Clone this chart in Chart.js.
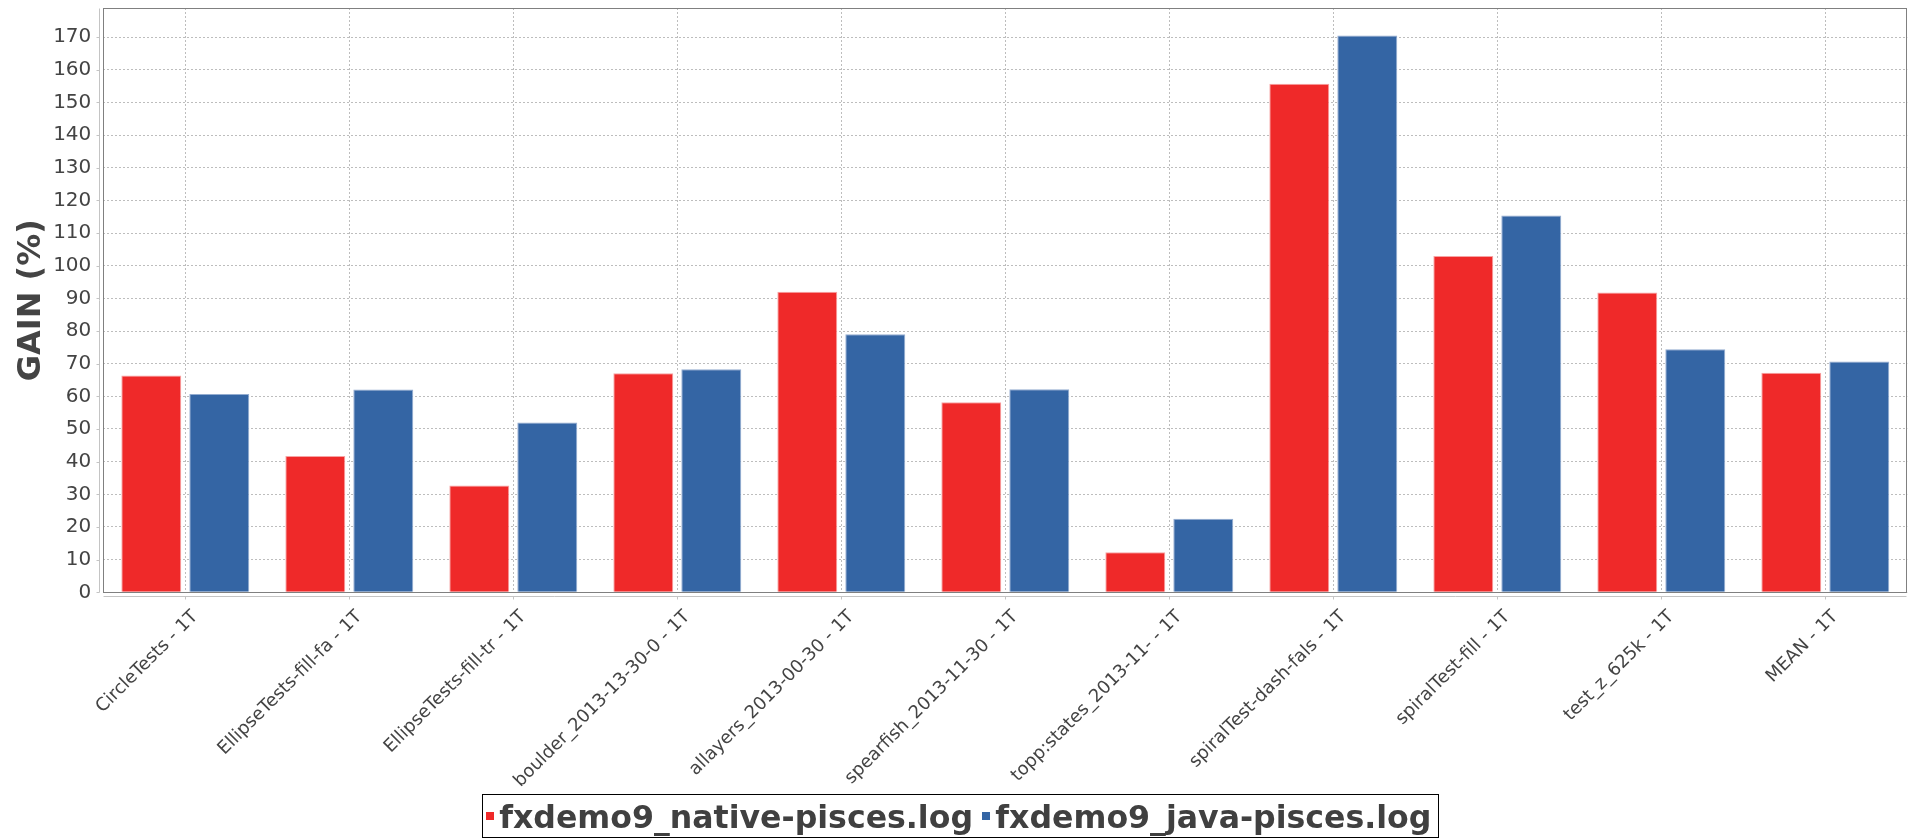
<!DOCTYPE html>
<html><head><meta charset="utf-8">
<script src="https://cdn.jsdelivr.net/npm/chart.js@4.4.1/dist/chart.umd.min.js"></script>
<style>html,body{margin:0;padding:0;background:#fff;}#wrap{width:1920px;height:840px;}</style>
</head><body><div id="wrap"><canvas id="c" width="1920" height="840"></canvas></div>
<script>
const categories = [
  'CircleTests - 1T',
  'EllipseTests-fill-fa - 1T',
  'EllipseTests-fill-tr - 1T',
  'boulder_2013-13-30-0 - 1T',
  'allayers_2013-00-30 - 1T',
  'spearfish_2013-11-30 - 1T',
  'topp:states_2013-11- - 1T',
  'spiralTest-dash-fals - 1T',
  'spiralTest-fill - 1T',
  'test_z_625k - 1T',
  'MEAN - 1T'
];
const nativeValues = [66.4, 41.7, 32.7, 67.1, 92.0, 58.2, 12.3, 155.7, 103.0, 91.8, 67.2];
const javaValues   = [60.7, 62.1, 52.0, 68.3, 79.0, 62.2, 22.5, 170.5, 115.4, 74.4, 70.7];
const seriesNames  = ['fxdemo9_native-pisces.log', 'fxdemo9_java-pisces.log'];
const yAxisTitle   = 'GAIN (%)';
const yMin = 0;
const yMax = 178.9;
const yStep = 10;

const FONT = "'DejaVu Sans', 'Liberation Sans', sans-serif";
const TEXT = '#444444';

const framePlugin = {
  id: 'frame',
  afterDatasetsDraw(chart) {
    const {ctx, chartArea: a, scales: {x, y}} = chart;
    const line = (x1, y1, x2, y2) => { ctx.beginPath(); ctx.moveTo(x1, y1); ctx.lineTo(x2, y2); ctx.stroke(); };
    ctx.save();
    ctx.lineWidth = 1;
    ctx.setLineDash([]);
    ctx.strokeStyle = '#808080';
    const L = Math.round(a.left) + 0.5, T = Math.round(a.top) + 0.5;
    const R = Math.round(a.right) - 0.5, B = Math.round(a.bottom) + 0.5;
    ctx.strokeRect(L, T, R - L, B - T);
    ctx.strokeStyle = '#c4c4c4';
    const ax = L - 4;
    line(ax, T, ax, B);
    y.ticks.forEach(t => {
      const py = Math.round(y.getPixelForValue(t.value)) + 0.5;
      line(ax - 3, py, ax, py);
    });
    const ay = B + 4;
    line(L, ay, R, ay);
    x.ticks.forEach((t, i) => {
      const px = Math.round(x.getPixelForTick(i)) + 0.5;
      line(px, ay, px, ay + 3);
    });
    ctx.restore();
  },
  afterDraw(chart) {
    const {ctx, width} = chart;
    ctx.save();
    ctx.font = "bold 31.6px " + FONT;
    const ds = chart.data.datasets;
    const widths = ds.map(d => ctx.measureText(d.label).width);
    const padL = 3.4, mark = 8, gapMT = 5.3, gapItems = 9, padR = 7.3;
    const total = padL + ds.length * (mark + gapMT) + widths.reduce((s, w) => s + w, 0) + gapItems * (ds.length - 1) + padR;
    const bx = Math.round(width / 2 - total / 2) + 0.5;
    const by = 794.5, bh = 43;
    ctx.strokeStyle = '#000000';
    ctx.lineWidth = 1;
    ctx.strokeRect(bx, by, Math.round(total), bh);
    let cx = bx + padL;
    ds.forEach((d, i) => {
      ctx.fillStyle = d.backgroundColor;
      ctx.fillRect(Math.round(cx), 812, mark, mark);
      cx += mark + gapMT;
      ctx.fillStyle = '#404040';
      ctx.textBaseline = 'alphabetic';
      ctx.textAlign = 'left';
      ctx.fillText(d.label, cx, 827.5);
      cx += widths[i] + gapItems;
    });
    ctx.restore();
  }
};

new Chart(document.getElementById('c'), {
  type: 'bar',
  data: {
    labels: categories,
    datasets: [
      { label: seriesNames[0], data: nativeValues, backgroundColor: '#ef2929', borderColor: '#f7a3a3', borderWidth: 1,
        categoryPercentage: 0.829, barPercentage: 0.882 },
      { label: seriesNames[1], data: javaValues, backgroundColor: '#3465a4', borderColor: '#93acd0', borderWidth: 1,
        categoryPercentage: 0.829, barPercentage: 0.882 }
    ]
  },
  options: {
    responsive: false,
    animation: false,
    devicePixelRatio: 1,
    layout: { padding: { top: 8, right: 12.7, bottom: 0, left: 0 } },
    plugins: { legend: { display: false }, tooltip: { enabled: false } },
    scales: {
      x: {
        offset: true,
        grid: { offset: false, color: '#bdbdbd', lineWidth: 1, drawTicks: false },
        border: { display: false, dash: [2, 2] },
        ticks: { autoSkip: false, minRotation: 45, maxRotation: 45, color: TEXT, padding: 14, labelOffset: 10,
                 font: { family: FONT, size: 18 } },
        afterFit(s) { s.height = 247.7; s.paddingLeft = 0; s.paddingRight = 0; }
      },
      y: {
        min: yMin, max: yMax,
        ticks: { stepSize: yStep, color: TEXT, padding: 12, font: { family: FONT, size: 20 } },
        afterBuildTicks(s) { s.ticks = s.ticks.filter(t => Math.abs(t.value % yStep) < 1e-6); },
        grid: { color: '#bdbdbd', lineWidth: 1, drawTicks: false },
        border: { display: false, dash: [2, 2] },
        title: { display: true, text: yAxisTitle, color: TEXT, padding: { top: 12, bottom: 0 },
                 font: { family: FONT, size: 32, weight: 'bold' } },
        afterFit(s) { s.width = 103.3; s.paddingTop = 0; s.paddingBottom = 0; }
      }
    }
  },
  plugins: [framePlugin]
});
</script>
</body></html>
